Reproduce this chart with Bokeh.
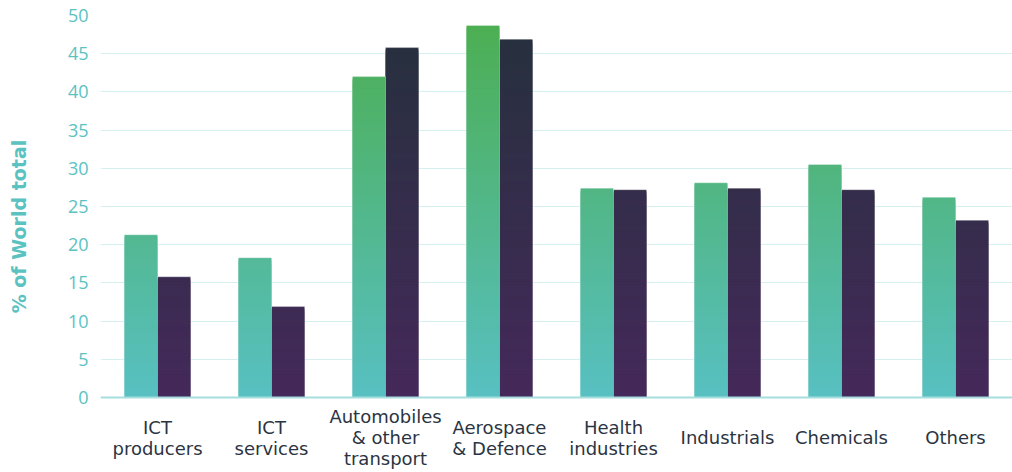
import math
from bokeh.plotting import figure
from bokeh.layouts import row
from bokeh.models import Range1d, FactorRange, ColumnDataSource, FixedTicker, Span
from bokeh.core.properties import value
from bokeh.transform import dodge
from bokeh.embed import file_html
from bokeh.resources import INLINE

categories = ["ICT\nproducers", "ICT\nservices", "Automobiles\n& other\ntransport",
              "Aerospace\n& Defence", "Health\nindustries", "Industrials", "Chemicals", "Others"]
series_a = [21.3, 18.3, 42.0, 48.7, 27.4, 28.1, 30.5, 26.2]
series_b = [15.8, 11.9, 45.8, 46.9, 27.2, 27.4, 27.2, 23.2]
y_ticks = [0, 5, 10, 15, 20, 25, 30, 35, 40, 45, 50]
y_title = "% of World total"

Y_MAX = 50.0
STEP = 0.2
BAR_W = 0.29
H = 472
TOP = 15
BASE = 397                       # pixel row of y = 0
PX = (BASE - TOP) / Y_MAX        # pixels per unit
Y_MIN = -(H - BASE) / PX         # frame extends below 0 to hold the category labels
LABEL_Y = -40 / PX


def hex2rgb(h):
    h = h.lstrip("#")
    return [int(h[i:i + 2], 16) for i in (0, 2, 4)]


def interp(c_bottom, c_top, f):
    a, b = hex2rgb(c_bottom), hex2rgb(c_top)
    f = max(0.0, min(1.0, f))
    return "#%02x%02x%02x" % tuple(int(round(a[i] + (b[i] - a[i]) * f)) for i in range(3))


def gradient_source(values, c_bottom, c_top):
    xs, tops, cols = [], [], []
    for cat, v in zip(categories, values):
        levels = [v] + [k * STEP for k in range(int(math.floor(v / STEP)), 0, -1) if k * STEP < v - 1e-9]
        for t in levels:
            xs.append(cat)
            tops.append(t)
            cols.append(interp(c_bottom, c_top, (t - STEP / 2) / Y_MAX))
    return ColumnDataSource(dict(x=xs, top=tops, color=cols))


p = figure(width=982, height=H, x_range=FactorRange(factors=categories),
           y_range=Range1d(Y_MIN, Y_MAX), output_backend="svg", toolbar_location=None,
           min_border_left=70, min_border_right=0, min_border_top=TOP, min_border_bottom=0)
p.outline_line_color = None
p.background_fill_color = "white"
p.border_fill_color = "white"

p.xgrid.grid_line_color = None
p.ygrid.grid_line_color = "#d4f0ef"
p.ygrid.grid_line_width = 1

src_a = gradient_source(series_a, "#58c0c2", "#4cae50")
src_b = gradient_source(series_b, "#45295a", "#25313d")

p.vbar(x=dodge("x", -BAR_W / 2, range=p.x_range), top="top", bottom=0, width=BAR_W,
       fill_color="color", line_color=None, source=src_a)
p.vbar(x=dodge("x", BAR_W / 2, range=p.x_range), top="top", bottom=0, width=BAR_W,
       fill_color="color", line_color=None, source=src_b)

out = ColumnDataSource(dict(x=categories, a=series_a, b=series_b,
                            ly=[LABEL_Y] * len(categories)))
p.vbar(x=dodge("x", -BAR_W / 2, range=p.x_range), top="a", bottom=0, width=BAR_W,
       fill_color=None, line_color="#ffffff", line_alpha=0.3, line_width=1, source=out)
p.vbar(x=dodge("x", BAR_W / 2, range=p.x_range), top="b", bottom=0, width=BAR_W,
       fill_color=None, line_color="#ffffff", line_alpha=0.3, line_width=1, source=out)

p.add_layout(Span(location=0, dimension="width", line_color="#a6dede", line_width=2))

p.text(x="x", y="ly", text="x", source=out, text_align="center", text_baseline="middle",
       text_font=value("DejaVu Sans"), text_font_size="18px", text_color="#2b3442",
       text_line_height=1.0)

p.xaxis.visible = False
p.yaxis.ticker = FixedTicker(ticks=y_ticks)
p.yaxis.axis_line_color = None
p.yaxis.major_tick_line_color = None
p.yaxis.major_tick_out = 0
p.yaxis.major_tick_in = 0
p.yaxis.minor_tick_line_color = None
p.yaxis.major_label_text_font = "Open Sans"
p.yaxis.major_label_text_font_size = "18px"
p.yaxis.major_label_text_color = "#5bc2c2"
p.yaxis.major_label_standoff = 12

# narrow strip on the left holding the rotated axis title
t = figure(width=30, height=H, x_range=Range1d(0, 30), y_range=Range1d(0, H),
           output_backend="svg", toolbar_location=None,
           min_border_left=0, min_border_right=0, min_border_top=0, min_border_bottom=0)
t.outline_line_color = None
t.axis.visible = False
t.grid.visible = False
t.text(x=[18], y=[H - 218], text=[y_title], angle=math.pi / 2,
       text_align="center", text_baseline="middle",
       text_font=value("DejaVu Sans"), text_font_style="bold", text_font_size="19px",
       text_color="#5bc2c2")

open("out.html", "w").write(file_html(row(t, p, spacing=0), INLINE))
